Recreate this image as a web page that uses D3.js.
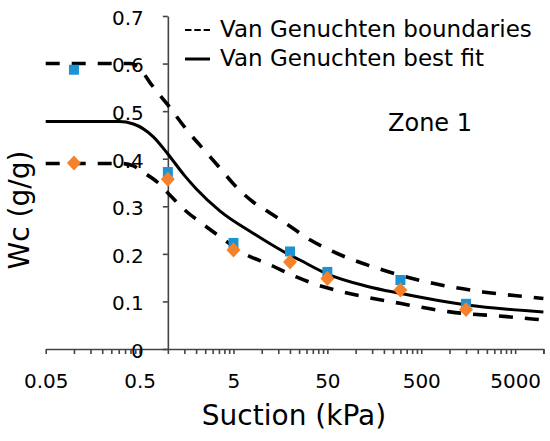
<!DOCTYPE html>
<meta charset="utf-8">
<style>
body { margin: 0; background: #fff; }
text { font-family: "DejaVu Sans", sans-serif; fill: #000; }
</style>
<body>
<script src="https://d3js.org/d3.v7.min.js"></script>
<script>

// measured points
var suction = [0.1, 1, 5, 20, 50, 300, 1500];
var wcBlue = [0.587, 0.372, 0.223, 0.205, 0.162, 0.145, 0.095];
var wcOrange = [0.391, 0.357, 0.208, 0.183, 0.148, 0.124, 0.083];

// Van Genuchten curves
var fitSuction = [0.05, 0.3, 0.43, 0.7, 1, 1.5, 2, 3.6, 8, 17, 25.5, 49.5, 131, 296, 1520, 10000];
var fitWc = [0.478, 0.478, 0.473, 0.446, 0.41, 0.365, 0.337, 0.29, 0.244, 0.205, 0.187, 0.158, 0.132, 0.117, 0.0925, 0.078];

var upperSuction = [0.05, 0.4, 0.5, 0.65, 1, 1.6, 2.6, 3.6, 4.9, 8.1, 11.4, 20, 33, 57, 195, 667, 2270, 7200, 10000];
var upperWc = [0.6, 0.6, 0.59, 0.559, 0.513, 0.46, 0.412, 0.38, 0.349, 0.309, 0.29, 0.258, 0.229, 0.205, 0.166, 0.138, 0.12, 0.109, 0.106];

var lowerSuction = [0.05, 0.31, 0.43, 0.54, 0.77, 1, 1.6, 2.2, 3.6, 6.3, 12.2, 23.7, 35, 73, 296, 1010, 4060, 10000];
var lowerWc = [0.39, 0.39, 0.385, 0.372, 0.351, 0.328, 0.288, 0.267, 0.236, 0.202, 0.177, 0.151, 0.138, 0.12, 0.096, 0.078, 0.068, 0.061];

var xTickLabels = ["0.05", "0.5", "5", "50", "500", "5000"];
var yTicks = [0, 0.1, 0.2, 0.3, 0.4, 0.5, 0.6, 0.7];

var width = 550,
    height = 441;

var svg = d3.select("body").append("svg")
    .attr("width", width)
    .attr("height", height);

var x = d3.scaleLog().domain([0.05, 10000]).range([45.7, 543.4]);
var y = d3.scaleLinear().domain([0, 0.7]).range([349, 16]);

// minor ticks every k * base, majors at k == 1
var xTicks = [];
xTickLabels.forEach(function(lab, d) {
  for (var k = 1; k <= 9; k++) {
    var v = +(0.05 * k * Math.pow(10, d)).toPrecision(6);
    if (v <= 10000) xTicks.push(v);
  }
});
xTicks.push(10000);

var xAxis = svg.append("g")
    .attr("transform", "translate(0," + y(0) + ")")
    .call(d3.axisBottom(x)
      .tickValues(xTicks)
      .tickSize(5)
      .tickSizeOuter(0)
      .tickPadding(20)
      .tickFormat(function(d) {
        var i = xTickLabels.indexOf(String(d));
        return i < 0 ? "" : xTickLabels[i];
      }));

var yAxis = svg.append("g")
    .attr("transform", "translate(" + x(1) + ",0)")
    .call(d3.axisLeft(y)
      .tickValues(yTicks)
      .tickSize(5)
      .tickSizeOuter(0)
      .tickPadding(19)
      .tickFormat(function(d) { return d === 0 ? "0" : d3.format(".1f")(d); }));

[xAxis, yAxis].forEach(function(g) {
  g.select(".domain").attr("stroke", "#444").attr("stroke-width", 1.6);
  g.selectAll(".tick line").attr("stroke", "#444").attr("stroke-width", 1.6);
  g.selectAll(".tick text")
    .attr("font-family", "DejaVu Sans, sans-serif")
    .attr("font-size", 20)
    .attr("fill", "#111");
});
yAxis.selectAll(".tick text").attr("dy", "0.42em");

var line = d3.line()
    .x(function(d) { return x(d[0]); })
    .y(function(d) { return y(d[1]); })
    .curve(d3.curveMonotoneX);

function pairs(xs, ys) {
  return xs.map(function(v, i) { return [v, ys[i]]; });
}

svg.append("path")
    .datum(pairs(upperSuction, upperWc))
    .attr("d", line)
    .attr("fill", "none")
    .attr("stroke", "#000")
    .attr("stroke-width", 3.6)
    .attr("stroke-dasharray", "14,12");

svg.append("path")
    .datum(pairs(lowerSuction, lowerWc))
    .attr("d", line)
    .attr("fill", "none")
    .attr("stroke", "#000")
    .attr("stroke-width", 3.6)
    .attr("stroke-dasharray", "14,12");

svg.append("path")
    .datum(pairs(fitSuction, fitWc))
    .attr("d", line)
    .attr("fill", "none")
    .attr("stroke", "#000")
    .attr("stroke-width", 3);

// markers
svg.selectAll(".sq")
    .data(pairs(suction, wcBlue))
  .enter().append("rect")
    .attr("class", "sq")
    .attr("x", function(d) { return x(d[0]) - 5; })
    .attr("y", function(d) { return y(d[1]) - 5; })
    .attr("width", 10)
    .attr("height", 10)
    .attr("fill", "#1e93d4");

svg.selectAll(".dm")
    .data(pairs(suction, wcOrange))
  .enter().append("path")
    .attr("class", "dm")
    .attr("transform", function(d) { return "translate(" + x(d[0]) + "," + y(d[1]) + ")"; })
    .attr("d", "M0,-7.5L7,0L0,7.5L-7,0Z")
    .attr("fill", "#f5822a");

// legend
svg.append("line")
    .attr("x1", 185).attr("x2", 210).attr("y1", 30).attr("y2", 30)
    .attr("stroke", "#000").attr("stroke-width", 2.2)
    .attr("stroke-dasharray", "6.5,2.8");
svg.append("line")
    .attr("x1", 185).attr("x2", 210).attr("y1", 59).attr("y2", 59)
    .attr("stroke", "#000").attr("stroke-width", 3);

svg.append("text")
    .attr("x", 220).attr("y", 37)
    .attr("font-size", 23)
    .text("Van Genuchten boundaries");
svg.append("text")
    .attr("x", 220).attr("y", 66)
    .attr("font-size", 23)
    .text("Van Genuchten best fit");

svg.append("text")
    .attr("x", 388).attr("y", 131)
    .attr("font-size", 24)
    .text("Zone 1");

// axis titles
svg.append("text")
    .attr("x", 294).attr("y", 425)
    .attr("text-anchor", "middle")
    .attr("font-size", 28)
    .text("Suction (kPa)");

svg.append("text")
    .attr("transform", "translate(29,210) rotate(-90)")
    .attr("text-anchor", "middle")
    .attr("font-size", 28)
    .text("Wc (g/g)");

</script>
